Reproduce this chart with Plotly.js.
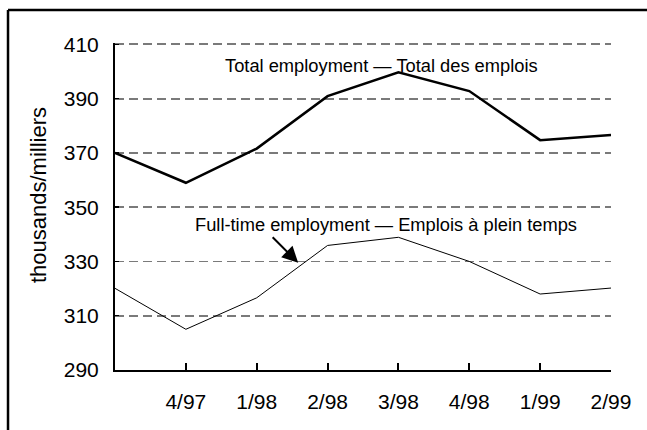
<!DOCTYPE html>
<html>
<head>
<meta charset="utf-8">
<script src="https://cdn.plot.ly/plotly-3.0.1.min.js"></script>
<style>html,body{margin:0;padding:0;background:#fff;}#chart{width:647px;height:430px;}</style>
</head>
<body>
<div id="chart"></div>
<script>
// Quarter labels (first point is unlabelled in the original)
const quarterLabels = ["", "4/97", "1/98", "2/98", "3/98", "4/98", "1/99", "2/99"];
// Total employment (thousands)
const totalEmployment = [370, 359, 371.6, 390.9, 399.7, 392.8, 374.7, 376.6];
// Full-time employment (thousands)
const fullTimeEmployment = [320.1, 305, 316.6, 335.9, 338.9, 330, 318, 320.2];
const yTicks = [290, 310, 330, 350, 370, 390, 410];

const xIdx = quarterLabels.map((_, i) => i);
const FONT = "Liberation Sans, Arial, Helvetica, sans-serif";

const traces = [
  {x: xIdx, y: totalEmployment, type: "scatter", mode: "lines",
   line: {color: "#000", width: 2.5}, hoverinfo: "skip"},
  {x: xIdx, y: fullTimeEmployment, type: "scatter", mode: "lines",
   line: {color: "#000", width: 1}, hoverinfo: "skip"}
];

const layout = {
  width: 647, height: 430,
  margin: {l: 115, r: 36, t: 43, b: 60, pad: 0},
  paper_bgcolor: "#fff", plot_bgcolor: "#fff",
  showlegend: false,
  font: {family: FONT, color: "#000", size: 21},
  xaxis: {
    range: [0, xIdx.length - 1],
    tickvals: xIdx, ticktext: quarterLabels,
    showgrid: false, zeroline: false,
    showline: true, linecolor: "#000", linewidth: 2,
    ticks: "inside", ticklen: 7, tickwidth: 2, tickcolor: "#000",
    ticklabelstandoff: 12,
    tickfont: {family: FONT, size: 21, color: "#000"}
  },
  yaxis: {
    range: [290, 410.5], tickvals: yTicks,
    showgrid: true, gridcolor: "#7a7a7a", gridwidth: 1.8, griddash: "9px,5px",
    zeroline: false,
    showline: true, linecolor: "#000", linewidth: 2,
    ticks: "inside", ticklen: 4, tickwidth: 1.5, tickcolor: "#000",
    ticklabelstandoff: 10,
    tickfont: {family: FONT, size: 21, color: "#000"}
  },
  annotations: [
    {xref: "paper", yref: "paper", x: -0.1542, y: 0.5336, xanchor: "center", yanchor: "middle",
     textangle: -90, text: "thousands/milliers", showarrow: false,
     font: {family: FONT, size: 22, color: "#000"}},
    {xref: "x", yref: "y", x: 1.52, y: 402.3, xanchor: "left", yanchor: "middle",
     text: "Total employment — Total des emplois", showarrow: false,
     font: {family: FONT, size: 18.3, color: "#000"}},
    {xref: "x", yref: "y", x: 1.097, y: 343.7, xanchor: "left", yanchor: "middle",
     text: "Full-time employment — Emplois à plein temps", showarrow: false,
     font: {family: FONT, size: 18.3, color: "#000"}},
    {xref: "x", yref: "y", x: 2.585, y: 329.5, text: "", showarrow: true,
     ax: -27, ay: -27, arrowhead: 2, arrowsize: 1.6, arrowwidth: 2, arrowcolor: "#000"}
  ],
  shapes: [
    {type: "line", xref: "paper", yref: "paper", x0: -0.2157, x1: 1.08, y0: 1.101, y1: 1.101,
     line: {color: "#000", width: 2.5}},
    {type: "line", xref: "paper", yref: "paper", x0: -0.2157, x1: -0.2157, y0: 1.101, y1: -0.2,
     line: {color: "#000", width: 2.5}}
  ]
};

Plotly.newPlot("chart", traces, layout, {staticPlot: true, displayModeBar: false});
</script>
</body>
</html>
